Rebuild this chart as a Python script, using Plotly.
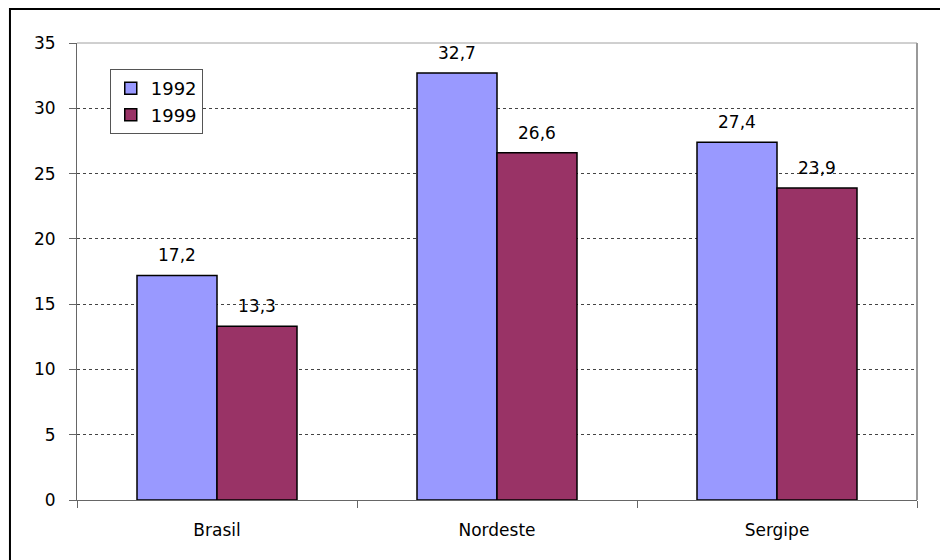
import plotly.graph_objects as go

categories = ["Brasil", "Nordeste", "Sergipe"]
series_names = ["1992", "1999"]
values_1992 = [17.2, 32.7, 27.4]
values_1999 = [13.3, 26.6, 23.9]
y_ticks = [0, 5, 10, 15, 20, 25, 30, 35]

colors = {"1992": "#9999FF", "1999": "#993366"}
FONT = "DejaVu Sans"
FS = 17

fig = go.Figure()
for name, vals in zip(series_names, [values_1992, values_1999]):
    fig.add_trace(go.Bar(
        x=categories, y=vals, name=name,
        marker=dict(color=colors[name], line=dict(color="black", width=1.5)),
    ))

annotations = []
for shift, vals in zip([-40, 40], [values_1992, values_1999]):
    for c, v in zip(categories, vals):
        annotations.append(dict(
            x=c, y=v, xref="x", yref="y", text=f"{v:.1f}".replace(".", ","),
            showarrow=False, xshift=shift, yshift=8, yanchor="bottom",
            font=dict(family=FONT, size=FS, color="black"),
        ))

fig.update_layout(
    width=940, height=560,
    margin=dict(l=77, r=23, t=43, b=60),
    paper_bgcolor="white", plot_bgcolor="white",
    barmode="group", bargap=0.4286, bargroupgap=0,
    font=dict(family=FONT, size=FS, color="black"),
    showlegend=True,
    legend=dict(
        x=0.039, y=0.943, xanchor="left", yanchor="top",
        bgcolor="white", bordercolor="#555555", borderwidth=1,
        font=dict(family=FONT, size=18, color="black"),
        itemwidth=30, tracegroupgap=4,
    ),
    annotations=annotations,
    shapes=[
        dict(type="rect", xref="paper", yref="paper",
             x0=-0.0798, x1=1.08, y0=-0.25, y1=1.0744,
             line=dict(color="black", width=2), layer="above"),
        dict(type="line", xref="paper", yref="paper", x0=0, x1=1, y0=1, y1=1,
             line=dict(color="#a0a0a0", width=1)),
        dict(type="line", xref="paper", yref="paper", x0=1, x1=1, y0=0, y1=1,
             line=dict(color="#999999", width=2)),
    ],
)

fig.update_yaxes(
    range=[0, 35], tickvals=y_ticks, ticktext=[str(t) for t in y_ticks],
    showgrid=True, gridcolor="#444444", griddash="dot", gridwidth=1,
    zeroline=False, showline=True, linecolor="#666666", linewidth=1,
    ticks="outside", ticklen=7, tickcolor="#666666",
    ticklabelstandoff=10,
    tickfont=dict(family=FONT, size=FS, color="black"),
)
fig.update_xaxes(
    showgrid=False, showline=True, linecolor="#666666", linewidth=1,
    ticks="outside", ticklen=7, tickcolor="#666666", tickson="boundaries",
    ticklabelstandoff=15,
    tickfont=dict(family=FONT, size=FS, color="black"),
)

fig.write_html("out.html")
